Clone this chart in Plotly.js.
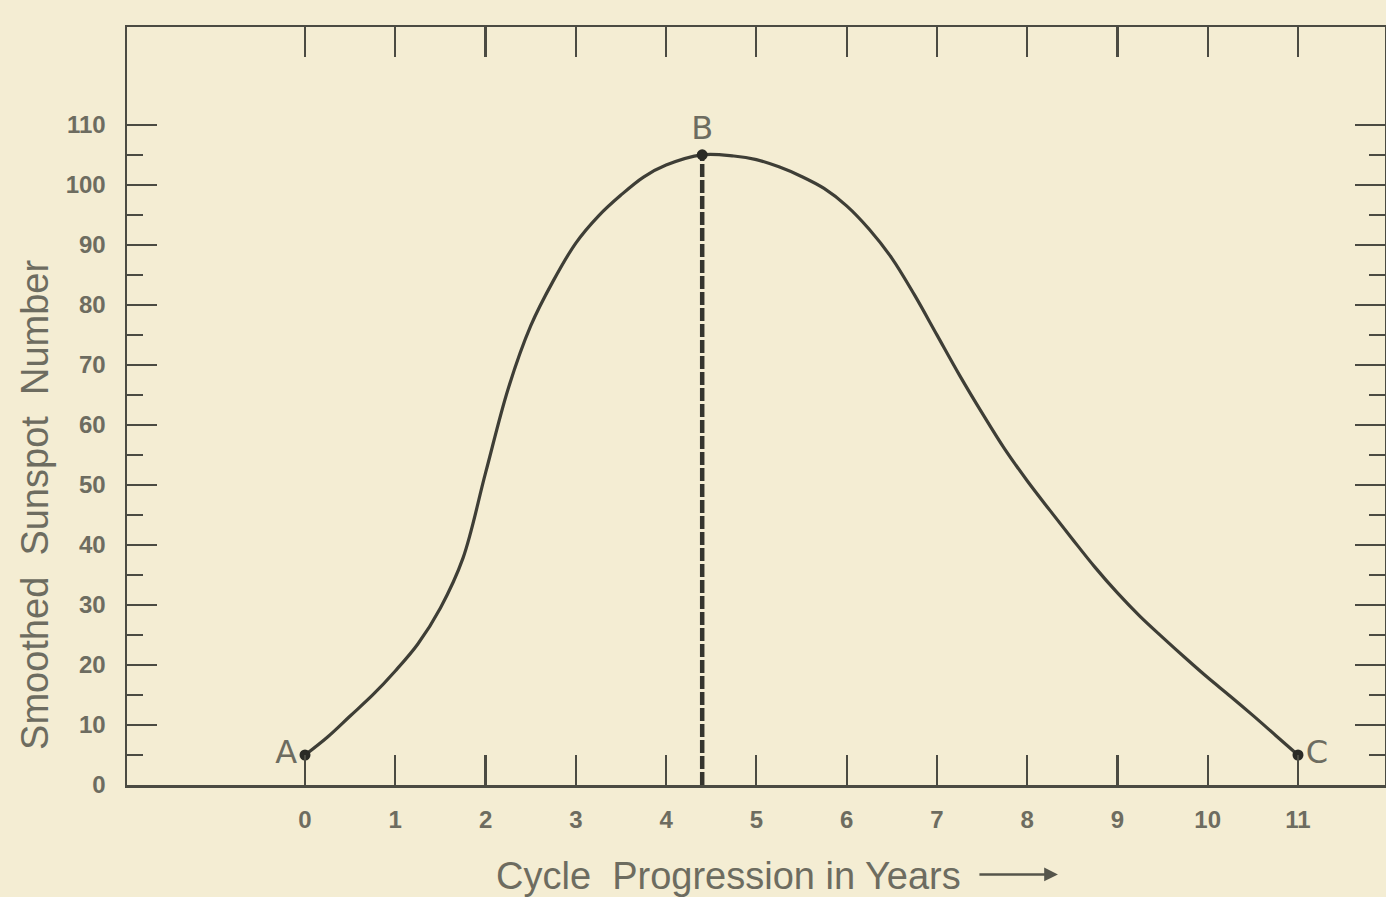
<!DOCTYPE html>
<html>
<head>
<meta charset="utf-8">
<script src="https://cdn.plot.ly/plotly-3.0.1.min.js"></script>
<style>
  html, body { margin: 0; padding: 0; background: #f4edd3; }
  #chart { width: 1386px; height: 897px; }
</style>
</head>
<body>
<div id="chart"></div>
<script>
// Smoothed sunspot number through one idealised solar cycle
const cycleYears = [0, 0.25, 0.5, 0.75, 1, 1.25, 1.5, 1.75, 2, 2.25, 2.5, 2.75, 3, 3.25, 3.5, 3.75, 4, 4.4,
                    4.75, 5, 5.25, 5.5, 5.75, 6, 6.25, 6.5, 6.75, 7, 7.25, 7.5, 7.75, 8, 8.25, 8.5,
                    8.75, 9, 9.25, 9.5, 9.75, 10, 10.25, 10.5, 10.75, 11];
const sunspotNumber = [5, 8, 11.5, 15, 19, 23.5, 29.5, 37.8, 52, 66, 76.5, 84, 90.3, 94.8, 98.3, 101.3, 103.3, 105,
                       104.8, 104.2, 103, 101.4, 99.4, 96.5, 92.6, 87.8, 81.7, 75, 68.3, 62, 56, 50.7, 45.8, 41,
                       36.3, 32, 28.1, 24.6, 21.2, 17.9, 14.8, 11.6, 8.3, 5];

// Key points: minimum A, maximum B, next minimum C
const pointLabels = ['A', 'B', 'C'];
const pointYears = [0, 4.4, 11];
const pointValues = [5, 105, 5];

// Axis ticks
const yearTicks = [0, 1, 2, 3, 4, 5, 6, 7, 8, 9, 10, 11];
const valueTicks = [0, 10, 20, 30, 40, 50, 60, 70, 80, 90, 100, 110];
const valueMinorTicks = [5, 15, 25, 35, 45, 55, 65, 75, 85, 95, 105];

const ink = '#4b4b42';
const labelInk = '#6d6c60';

const traces = [
  {
    x: [pointYears[1], pointYears[1]],
    y: [0, pointValues[1]],
    mode: 'lines',
    line: { color: '#35352e', width: 4.5, dash: '13px,3px' },
    hoverinfo: 'skip'
  },
  {
    x: cycleYears,
    y: sunspotNumber,
    mode: 'lines',
    line: { color: '#3e3e36', width: 3.2, shape: 'spline', smoothing: 1 },
    hoverinfo: 'x+y'
  },
  {
    x: pointYears,
    y: pointValues,
    mode: 'markers+text',
    text: pointLabels,
    textposition: ['middle left', 'top center', 'middle right'],
    textfont: { family: 'DejaVu Sans, sans-serif', size: 32, color: labelInk },
    marker: { color: '#2a2a25', size: 11 },
    hoverinfo: 'skip'
  }
];

const tickFont = { family: 'Liberation Sans, sans-serif', size: 24, color: labelInk, weight: 'bold' };

const layout = {
  width: 1386,
  height: 897,
  margin: { l: 127, r: 1, t: 27, b: 112 },
  paper_bgcolor: '#f4edd3',
  plot_bgcolor: '#f4edd3',
  showlegend: false,
  xaxis: {
    range: [-1.972, 11.964],
    tickmode: 'array',
    tickvals: yearTicks,
    ticktext: yearTicks.map(String),
    ticks: 'inside',
    ticklen: 30,
    tickwidth: 2.2,
    tickcolor: ink,
    showline: true,
    linecolor: ink,
    linewidth: 2.5,
    mirror: 'allticks',
    showgrid: false,
    zeroline: false,
    ticklabelstandoff: 12,
    tickfont: tickFont
  },
  yaxis: {
    range: [0, 126.3],
    tickmode: 'array',
    tickvals: valueTicks,
    ticktext: valueTicks.map(String),
    ticks: 'inside',
    ticklen: 30,
    tickwidth: 2.2,
    tickcolor: ink,
    minor: {
      tickmode: 'array',
      tickvals: valueMinorTicks,
      ticks: 'inside',
      ticklen: 16,
      tickwidth: 2,
      tickcolor: ink,
      showgrid: false
    },
    showline: true,
    linecolor: ink,
    linewidth: 2.5,
    mirror: 'allticks',
    showgrid: false,
    zeroline: false,
    ticklabelstandoff: 14,
    tickfont: tickFont
  },
  annotations: [
    {
      text: 'Smoothed  Sunspot  Number',
      xref: 'paper', yref: 'paper',
      x: -0.0731, y: 0.3695,
      xanchor: 'center', yanchor: 'middle',
      textangle: -90,
      showarrow: false,
      font: { family: 'Liberation Sans, sans-serif', size: 38, color: labelInk }
    },
    {
      text: 'Cycle  Progression in Years',
      xref: 'paper', yref: 'paper',
      x: 0.4785, y: -0.12,
      xanchor: 'center', yanchor: 'middle',
      showarrow: false,
      font: { family: 'Liberation Sans, sans-serif', size: 38, color: labelInk }
    },
    {
      text: '',
      xref: 'paper', yref: 'paper',
      x: 0.740, y: -0.118,
      ax: -80, ay: 0,
      showarrow: true,
      arrowhead: 2,
      arrowsize: 1.1,
      arrowwidth: 2.5,
      arrowcolor: '#55554b'
    }
  ]
};

Plotly.newPlot('chart', traces, layout, { staticPlot: true, displayModeBar: false });
</script>
</body>
</html>
